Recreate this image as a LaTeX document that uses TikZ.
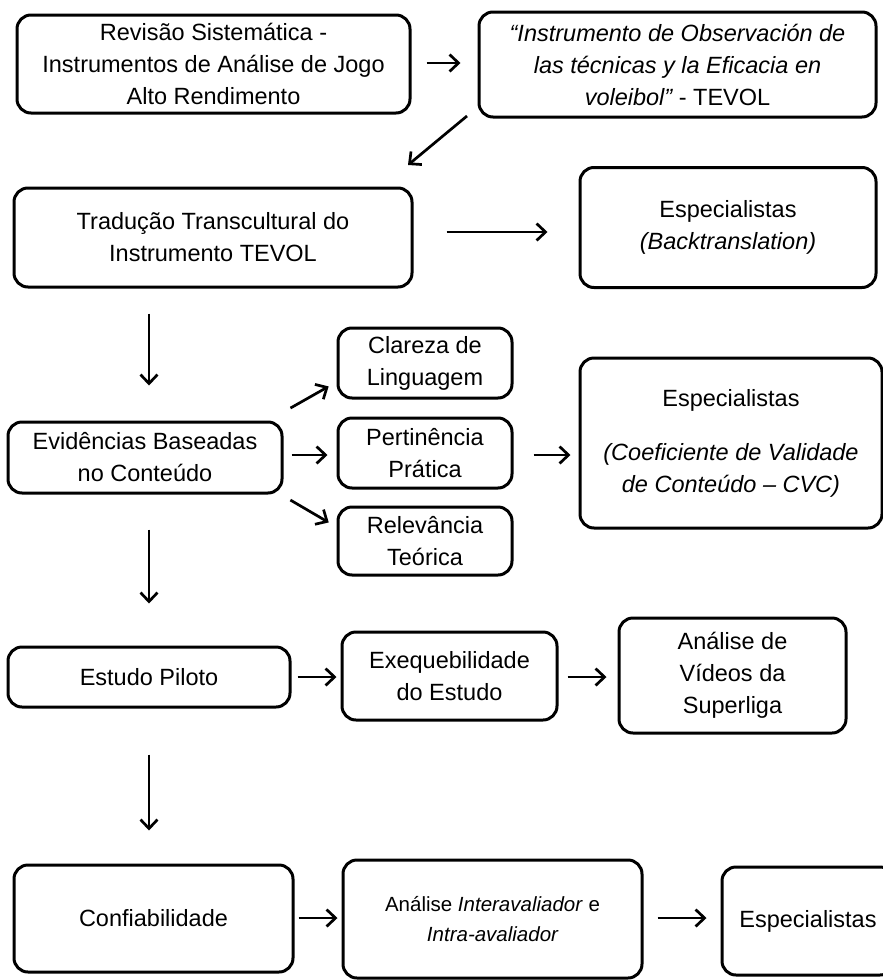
\documentclass[tikz,border=0pt]{standalone}
\usepackage{fontspec}
\setmainfont{Liberation Sans}
\usetikzlibrary{arrows.meta}
\begin{document}
\begin{tikzpicture}[x=1pt,y=-1pt,
  box/.style={draw, line width=3pt, rounded corners=14pt, align=center,
    inner sep=0pt, font=\fontsize{23.5}{32}\selectfont},
  smallbox/.style={box, font=\fontsize{20.5}{30}\selectfont},
  flow/.style={line width=2.7pt, -{Straight Barb[length=9pt,width=17pt]}}]
\clip (0,0) rectangle (883,980);
\fill[white] (0,0) rectangle (883,980);

% first row
\node[box, minimum width=393pt, minimum height=98pt] (rev) at (213.5,64)
  {Revisão Sistemática -\\Instrumentos de Análise de Jogo\\Alto Rendimento};
\node[box, minimum width=397pt, minimum height=105pt] (tevol) at (677.5,64.5)
  {\itshape “Instrumento de Observación de\\\itshape las técnicas y la Eficacia en\\{\itshape voleibol”} - TEVOL};

% translation
\node[box, minimum width=398pt, minimum height=99pt] (trad) at (213,237.5)
  {Tradução Transcultural do\\Instrumento TEVOL};
\node[box, minimum width=296pt, minimum height=120pt] (back) at (728,227.5)
  {Especialistas\\\itshape(Backtranslation)};

% content evidence
\node[box, minimum width=274pt, minimum height=71pt] (evid) at (145,457.5)
  {Evidências Baseadas\\no Conteúdo};
\node[box, minimum width=174pt, minimum height=70pt] (clar) at (425,363)
  {Clareza de\\Linguagem};
\node[box, minimum width=174pt, minimum height=70pt] (pert) at (425,453)
  {Pertinência\\Prática};
\node[box, minimum width=174pt, minimum height=68pt] (relev) at (425,541)
  {Relevância\\Teórica};
\node[box, minimum width=302pt, minimum height=170pt] (cvc) at (731,443)
  {Especialistas\\[22pt]\itshape(Coeficiente de Validade\\\itshape de Conteúdo – CVC)};

% pilot study
\node[box, minimum width=282pt, minimum height=60pt] (piloto) at (149,677)
  {Estudo Piloto};
\node[box, minimum width=215pt, minimum height=88pt] (exeq) at (449.5,676)
  {Exequebilidade\\do Estudo};
\node[box, minimum width=227pt, minimum height=115pt] (videos) at (732.5,675.5)
  {Análise de\\Vídeos da\\Superliga};

% reliability
\node[box, minimum width=279pt, minimum height=107pt] (conf) at (153.5,918.5)
  {Confiabilidade};
\node[smallbox, minimum width=299pt, minimum height=118pt] (inter) at (492.5,919)
  {Análise \textit{Interavaliador} e\\\itshape Intra-avaliador};
\node[box, minimum width=172pt, minimum height=108pt] (espec) at (808,921)
  {Especialistas};

% connectors
\draw[flow, shorten <=15pt, shorten >=17pt] (rev.east |- 0,63) -- (tevol.west |- 0,63);
\coordinate (dstart) at (467,116);
\coordinate (dend) at (408,165);
\draw[flow] (dstart) -- (dend);
\draw[flow, shorten <=33pt, shorten >=31pt] (trad.east |- 0,232) -- (back.west |- 0,232);
\draw[flow, shorten <=25pt, shorten >=35pt] (trad.south -| 149,0) -- (evid.north -| 149,0);
\draw[flow, shorten <=8pt, shorten >=9pt] (evid.east |- 0,412) -- (clar.west |- 0,382);
\draw[flow, shorten <=8pt, shorten >=9pt] (evid.east |- 0,455) -- (pert.west |- 0,455);
\draw[flow, shorten <=8pt, shorten >=9pt] (evid.east |- 0,496) -- (relev.west |- 0,527);
\draw[flow, shorten <=20pt, shorten >=8pt] (pert.east |- 0,455) -- (cvc.west |- 0,455);
\draw[flow, shorten <=35pt, shorten >=42pt] (evid.south -| 149,0) -- (piloto.north -| 149,0);
\draw[flow, shorten <=6pt, shorten >=4pt] (piloto.east |- 0,677) -- (exeq.west |- 0,677);
\draw[flow, shorten <=9pt, shorten >=11pt] (exeq.east |- 0,677) -- (videos.west |- 0,677);
\draw[flow, shorten <=46pt, shorten >=33pt] (piloto.south -| 149,0) -- (conf.north -| 149,0);
\draw[flow, shorten <=4pt, shorten >=4pt] (conf.east |- 0,918) -- (inter.west |- 0,918);
\draw[flow, shorten <=14pt, shorten >=14pt] (inter.east |- 0,918) -- (espec.west |- 0,918);
\end{tikzpicture}
\end{document}
